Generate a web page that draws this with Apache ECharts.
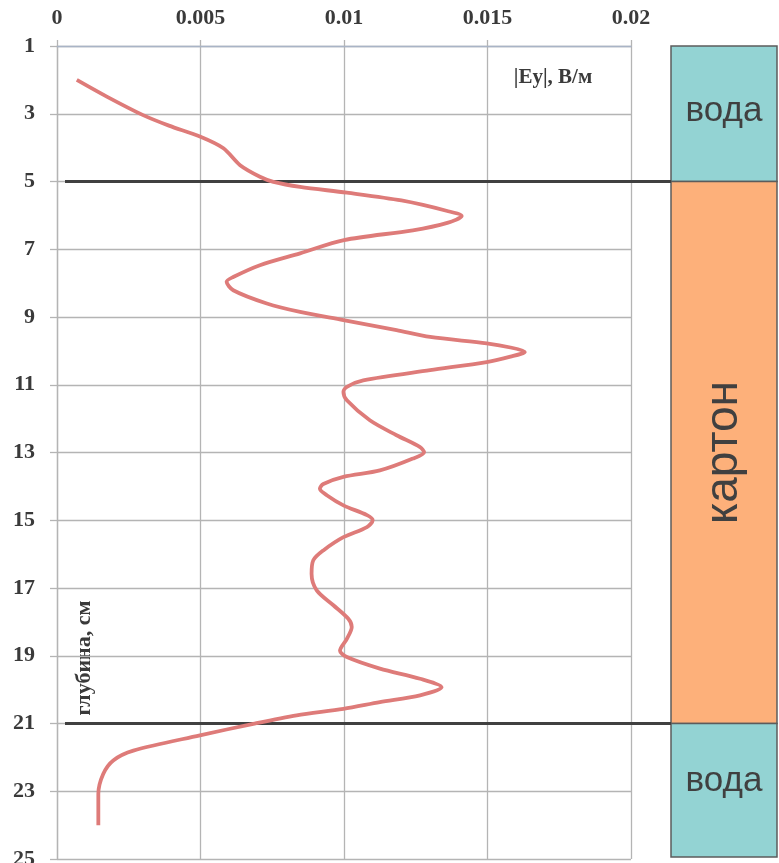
<!DOCTYPE html>
<html>
<head>
<meta charset="utf-8">
<script src="https://cdn.jsdelivr.net/npm/echarts@6/dist/echarts.min.js"></script>
<style>
  html, body { margin: 0; padding: 0; background: #fff; }
  #chart { width: 779px; height: 863px; }
</style>
</head>
<body>
<div id="chart"></div>
<script>
// depth, cm (y) and |Ey|, V/m (x)
const depth = [
  2.0, 2.5, 3.04, 3.35, 3.68, 4.02, 4.52, 4.86, 5.01, 5.16, 5.33, 5.56,
  5.87, 6.02, 6.22, 6.44, 6.73, 7.12, 7.47, 7.82, 7.96, 8.21, 8.6, 8.85, 9.09,
  9.39, 9.59, 9.78, 9.9, 10.03, 10.17, 10.33, 10.57, 10.87, 11.06, 11.21, 11.46, 12.05,
  12.49, 12.84, 12.99, 13.18, 13.53, 13.72, 13.93, 14.07, 14.26, 14.56, 14.85,
  15.0, 15.2, 15.5, 15.89, 16.18, 16.58, 17.07, 17.51, 17.91, 18.15, 18.5,
  18.85, 19.04, 19.38, 19.68, 19.93, 20.17, 20.37, 20.57, 20.76, 21.01, 21.35,
  21.8, 22.09, 22.49, 23.08, 24.0
];
const eyValues = [
  0.00069, 0.00175, 0.0030, 0.0039, 0.0050, 0.0058, 0.00638, 0.00707, 0.00754, 0.00847, 0.0101, 0.0120,
  0.0136, 0.0141, 0.0136, 0.0124, 0.0100, 0.00847, 0.00707, 0.00614, 0.00591, 0.00614, 0.00731, 0.00847, 0.00998,
  0.01183, 0.0130, 0.01497, 0.0158, 0.0163, 0.0158, 0.01497, 0.0130, 0.01067, 0.0101, 0.00998, 0.0101, 0.0109,
  0.01183, 0.01265, 0.01279, 0.0124, 0.01125, 0.00998, 0.00928, 0.00916, 0.0094, 0.00998, 0.0108,
  0.0110, 0.0108, 0.00998, 0.00928, 0.00893, 0.00887, 0.00905, 0.00963, 0.01015, 0.01027, 0.0101,
  0.00986, 0.0101, 0.01125, 0.01265, 0.0134, 0.01265, 0.01125, 0.00998, 0.00835, 0.00684, 0.00498,
  0.00266, 0.00196, 0.00161, 0.00144, 0.00144
];

const xTicks = [0, 0.005, 0.01, 0.015, 0.02];
const depthTicks = [1, 3, 5, 7, 9, 11, 13, 15, 17, 19, 21, 23, 25];

// layers on the right
const layerNames = ['вода', 'картон', 'вода'];
const layerTop = [1, 5, 21];
const layerBottom = [5, 21, 25];
const boundaries = [5, 21];

const chart = echarts.init(document.getElementById('chart'));

const layerColors = ['#93d3d3', '#fdb07a', '#93d3d3'];
const labelDy = [-2, 0, -9];
const tickFont = { fontFamily: 'Liberation Serif', fontWeight: 'bold', fontSize: 22, color: '#3a3a3a' };

const curve = depth.map(function (d, i) { return [eyValues[i], d]; });

const option = {
  backgroundColor: '#ffffff',
  animation: false,
  grid: { left: 57, top: 46, right: 148, bottom: 4, containLabel: false, outerBoundsMode: 'none' },
  xAxis: {
    type: 'value',
    position: 'top',
    min: xTicks[0],
    max: xTicks[xTicks.length - 1],
    interval: 0.005,
    axisLine: { show: true, lineStyle: { color: '#a9b4c6', width: 1.3 } },
    axisTick: { show: true, inside: false, length: 6, lineStyle: { color: '#b4b4b4', width: 1.3 } },
    axisLabel: Object.assign({
      margin: 17,
      formatter: function (v) { return String(+v.toFixed(3)); }
    }, tickFont),
    splitLine: { show: true, lineStyle: { color: '#b4b4b4', width: 1.3 } }
  },
  yAxis: {
    type: 'value',
    inverse: true,
    min: depthTicks[0],
    max: depthTicks[depthTicks.length - 1],
    interval: 2,
    axisLine: { show: true, lineStyle: { color: '#b4b4b4', width: 1.3 } },
    axisTick: { show: true, inside: false, length: 7, lineStyle: { color: '#b4b4b4', width: 1.3 } },
    axisLabel: Object.assign({ margin: 22 }, tickFont),
    splitLine: { show: true, lineStyle: { color: '#b4b4b4', width: 1.3 } }
  },
  series: [
    {
      type: 'line',
      data: curve,
      smooth: 0.3,
      showSymbol: false,
      lineStyle: { color: '#de7b79', width: 3.8 },
      z: 5
    },
    {
      // layer boxes
      type: 'custom',
      clip: false,
      data: layerNames.map(function (n, i) { return [i]; }),
      renderItem: function (params, api) {
        const i = api.value(0);
        const right = api.coord([xTicks[xTicks.length - 1], layerTop[i]])[0];
        const y0 = api.coord([0, layerTop[i]])[1];
        const y1 = api.coord([0, layerBottom[i]])[1] - (i === layerNames.length - 1 ? 2 : 0);
        const x0 = right + 40;
        const w = 106;
        const vertical = layerNames[i].length > 4;
        return {
          type: 'group',
          children: [
            {
              type: 'rect',
              shape: { x: x0, y: y0, width: w, height: y1 - y0 },
              style: { fill: layerColors[i], stroke: '#5c5c5c', lineWidth: 1.5 }
            },
            {
              type: 'text',
              x: x0 + w / 2,
              y: (y0 + y1) / 2 + labelDy[i],
              rotation: vertical ? Math.PI / 2 : 0,
              style: {
                text: layerNames[i],
                font: (vertical ? 46 : 35) + 'px "Liberation Sans"',
                fill: '#404040',
                align: 'center',
                verticalAlign: 'middle'
              }
            }
          ]
        };
      },
      z: 3
    },
    {
      // boundary lines
      type: 'custom',
      clip: false,
      data: boundaries.map(function (b) { return [b]; }),
      renderItem: function (params, api) {
        const d = api.value(0);
        const p0 = api.coord([0, d]);
        const p1 = api.coord([xTicks[xTicks.length - 1], d]);
        return {
          type: 'line',
          shape: { x1: p0[0] + 8, y1: p0[1], x2: p1[0] + 40, y2: p1[1] },
          style: { stroke: '#404040', lineWidth: 3 }
        };
      },
      z: 4
    }
  ],
  graphic: [
    {
      type: 'text',
      x: 553, y: 78,
      style: {
        text: '|Ey|, В/м', font: 'bold 21px "Liberation Serif"', fill: '#3a3a3a',
        align: 'center', verticalAlign: 'middle'
      }
    },
    {
      type: 'text',
      x: 84, y: 658,
      rotation: Math.PI / 2,
      style: {
        text: 'глубина, см', font: 'bold 22px "Liberation Serif"', fill: '#3a3a3a',
        align: 'center', verticalAlign: 'middle'
      }
    }
  ]
};

chart.setOption(option);
</script>
</body>
</html>
